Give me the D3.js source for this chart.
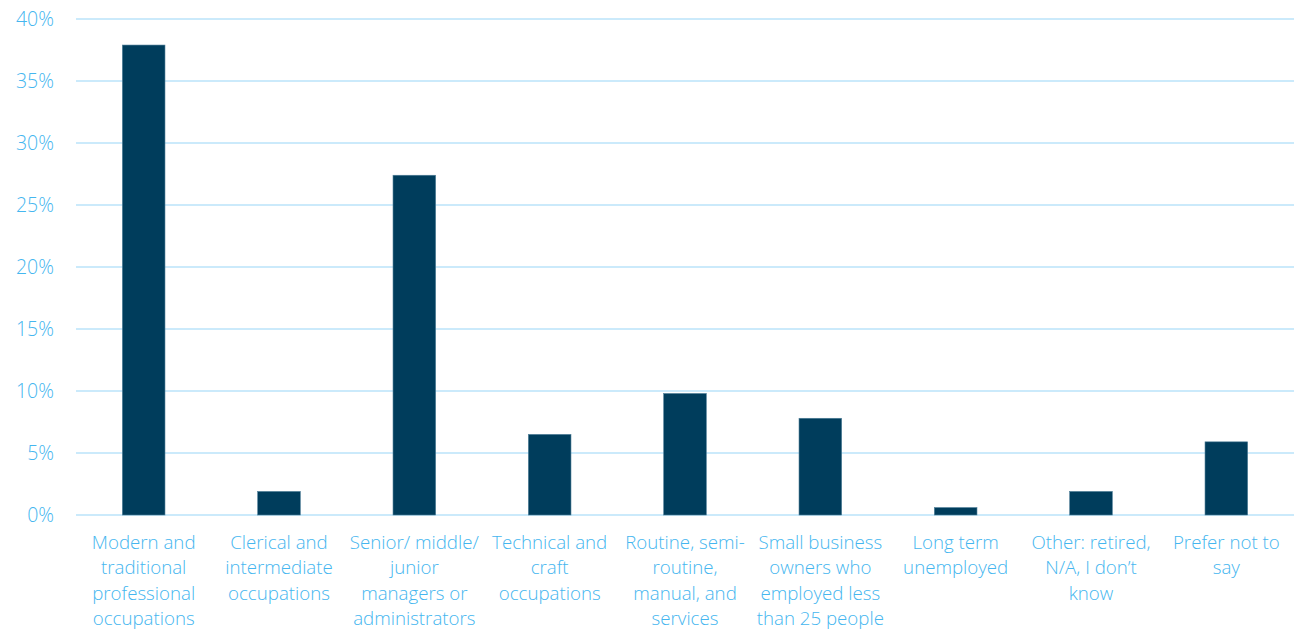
<!DOCTYPE html>
<html><head><meta charset="utf-8">
<script src="https://cdn.jsdelivr.net/npm/d3@7"></script>
<style>body{margin:0;background:#fff}svg{display:block}text{font-family:"Open Sans",sans-serif;}</style>
</head><body><svg id="c" width="1294" height="632"></svg>
<script>
const categories = [
  ["Modern and","traditional","professional","occupations"],
  ["Clerical and","intermediate","occupations"],
  ["Senior/ middle/","junior","managers or","administrators"],
  ["Technical and","craft","occupations"],
  ["Routine, semi-","routine,","manual, and","services"],
  ["Small business","owners who","employed less","than 25 people"],
  ["Long term","unemployed"],
  ["Other: retired,","N/A, I don\u2019t","know"],
  ["Prefer not to","say"]
];
const values = [37.9, 1.9, 27.4, 6.5, 9.8, 7.8, 0.6, 1.9, 5.9];
const yTicks = [0,5,10,15,20,25,30,35,40];

(function(){
const svg = d3.select("#c");
const mLeft = 76, mRight = 1294, mTop = 19, mBottom = 515;
const x = d3.scaleBand().domain(d3.range(values.length)).range([mLeft,mRight]).paddingInner(0.685).paddingOuter(0.3425);
const y = d3.scaleLinear().domain([0,40]).range([mBottom,mTop]);

const labelColor = "#45b6ef";
const grid = svg.append("g");
grid.selectAll("line").data(yTicks).join("line")
  .attr("x1",mLeft).attr("x2",mRight)
  .attr("y1",d=>y(d)).attr("y2",d=>y(d))
  .attr("stroke","#cbeafb").attr("stroke-width",2);

const yAxis = d3.axisLeft(y).tickValues(yTicks).tickFormat(d=>d+"%").tickSize(0).tickPadding(0);
const ya = svg.append("g").attr("transform",`translate(54,0)`).call(yAxis);
ya.select(".domain").remove();
ya.selectAll("text").attr("fill",labelColor).style("font-size","19.5px").style("font-family","'Open Sans',sans-serif").style("font-weight","300");

svg.append("g").selectAll("rect").data(values).join("rect")
  .attr("x",(d,i)=>x(i)).attr("width",x.bandwidth())
  .attr("y",d=>y(d)).attr("height",d=>mBottom-y(d))
  .attr("fill","#003d5c").attr("stroke","#4f7f98").attr("stroke-width",0.6);

const lab = svg.append("g");
categories.forEach((lines,i)=>{
  const t = lab.append("text").attr("x",x(i)+x.bandwidth()/2).attr("y",549)
    .attr("text-anchor","middle").attr("fill",labelColor)
    .style("font-size","18.7px").style("font-weight","300");
  lines.forEach((l,j)=>t.append("tspan").attr("x",x(i)+x.bandwidth()/2).attr("dy",j===0?0:25.3).text(l));
});
})();
</script></body></html>
